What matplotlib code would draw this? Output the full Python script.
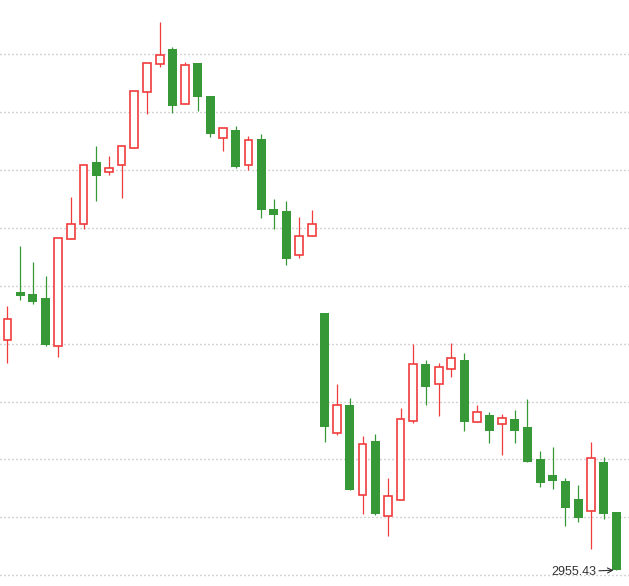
import numpy as np
import matplotlib.pyplot as plt

# OHLC data (index points)
opens = [2975.30, 2979.47, 2979.27, 2978.95, 2974.78, 2984.02, 2985.32, 2990.70, 2989.86, 2990.41,
         2991.88, 2996.72, 2999.14, 3000.46, 2995.68, 2999.25, 2996.40, 2992.74, 2993.46, 2990.41,
         2992.68, 2986.64, 2986.46, 2982.64, 2984.28, 2977.65, 2967.26, 2969.71, 2961.91, 2966.60,
         2960.10, 2961.48, 2968.30, 2973.25, 2971.50, 2972.79, 2973.60, 2968.21, 2968.85, 2968.04,
         2968.50, 2967.81, 2965.04, 2963.66, 2963.14, 2961.59, 2960.53, 2964.79, 2960.47]
highs = [2978.26, 2983.44, 2982.06, 2980.85, 2984.11, 2987.70, 2990.44, 2992.10, 2991.24, 2992.08,
         2996.83, 2999.22, 3002.79, 3000.63, 2999.33, 2999.25, 2996.40, 2993.61, 2993.81, 2992.94,
         2993.12, 2987.50, 2987.33, 2985.95, 2986.55, 2977.65, 2971.52, 2970.31, 2967.03, 2967.20,
         2963.40, 2969.45, 2974.98, 2973.60, 2973.34, 2975.06, 2974.20, 2969.71, 2969.10, 2968.93,
         2969.28, 2970.23, 2965.74, 2966.08, 2963.40, 2962.80, 2966.51, 2965.22, 2960.47]
lows = [2973.36, 2978.80, 2978.46, 2974.83, 2973.88, 2984.02, 2984.88, 2987.33, 2989.60, 2987.61,
        2991.88, 2994.87, 2998.93, 2994.96, 2995.68, 2995.10, 2992.88, 2991.67, 2990.18, 2990.01,
        2985.89, 2984.94, 2981.83, 2982.43, 2984.28, 2966.54, 2967.14, 2962.39, 2960.32, 2960.18,
        2958.42, 2961.48, 2968.18, 2969.73, 2968.78, 2972.15, 2967.49, 2968.21, 2966.45, 2965.39,
        2966.45, 2964.81, 2962.65, 2962.48, 2959.28, 2959.63, 2957.25, 2959.89, 2955.43]
closes = [2977.14, 2979.15, 2978.63, 2974.92, 2984.11, 2985.32, 2990.44, 2989.51, 2990.18, 2992.08,
          2996.83, 2999.22, 2999.91, 2995.56, 2999.05, 2996.34, 2993.14, 2993.61, 2990.29, 2992.57,
          2986.58, 2986.15, 2982.35, 2984.28, 2985.32, 2967.83, 2969.68, 2962.39, 2966.31, 2960.32,
          2961.82, 2968.50, 2973.25, 2971.29, 2972.97, 2973.74, 2968.27, 2969.08, 2967.49, 2968.56,
          2967.49, 2964.81, 2963.00, 2963.17, 2960.84, 2959.97, 2965.13, 2960.32, 2955.43]
last_label = "2955.43"

up_color = '#f03c3c'
down_color = '#369836'

o = np.array(opens)
h = np.array(highs)
l = np.array(lows)
c = np.array(closes)
x = np.arange(len(o))
up = c >= o

fig = plt.figure(figsize=(6.29, 5.86), dpi=100)
ax = fig.add_axes([0, 0, 1, 1])

# wicks
ax.vlines(x[up], l[up], h[up], color=up_color, lw=0.9, zorder=2)
ax.vlines(x[~up], l[~up], h[~up], color=down_color, lw=0.9, zorder=2)

# bodies
ax.bar(x[up], c[up] - o[up], bottom=o[up], width=0.61,
       facecolor='white', edgecolor=up_color, linewidth=1.2, zorder=3)
ax.bar(x[~up], o[~up] - c[~up], bottom=c[~up], width=0.71,
       color=down_color, linewidth=0, zorder=3)

# last price label with arrow
ax.annotate(last_label, xy=(47.8, c[-1]), xytext=(46.42, 2955.31),
            ha='right', va='center', fontsize=9, family='Liberation Sans',
            color='#333333',
            arrowprops=dict(arrowstyle='->', color='#333333', lw=0.8,
                            shrinkA=0, shrinkB=0))

ax.set_xlim(-0.591, 49.01)
ax.set_ylim(2954.07, 3004.69)
ax.set_yticks(np.arange(2955, 3001, 5))
ax.grid(axis='y', color='#aaaaaa', linestyle=(0, (0.72, 2.16)), linewidth=1.0)
ax.set_axisbelow(True)
ax.tick_params(left=False, bottom=False, labelleft=False, labelbottom=False)
for s in ax.spines.values():
    s.set_visible(False)

plt.savefig("out.png", dpi=100)
